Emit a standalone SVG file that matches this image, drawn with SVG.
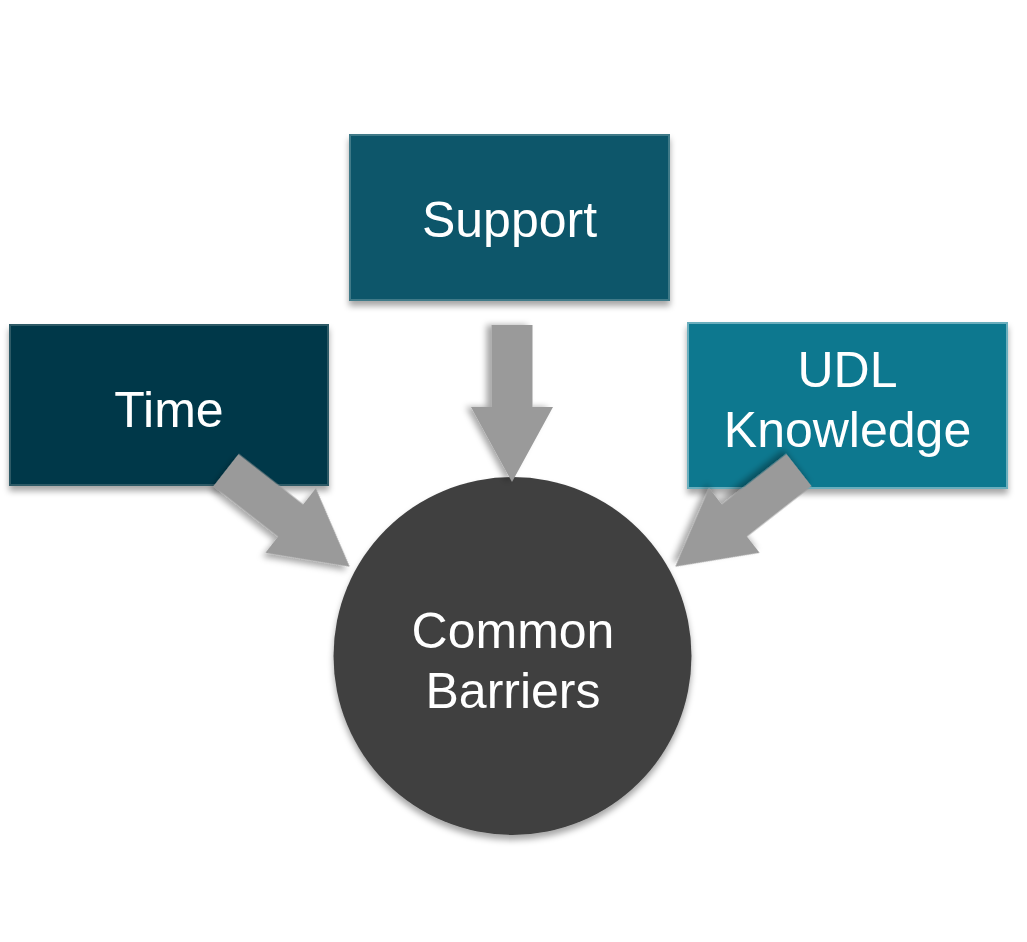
<svg xmlns="http://www.w3.org/2000/svg" width="1027" height="942" viewBox="0 0 1027 942">
  <defs>
    <filter id="shadow" x="-20%" y="-20%" width="140%" height="150%">
      <feDropShadow dx="0" dy="5" stdDeviation="3" flood-color="#000000" flood-opacity="0.35"/>
    </filter>
    <path id="arrowShape" d="M0,-20.5 L82,-20.5 L82,-41 L157,0 L82,41 L82,20.5 L0,20.5 Z"/>
  </defs>
  <style>
    .label { font-family: "Liberation Sans", Arial, sans-serif; font-size: 50px; fill: #ffffff; text-anchor: middle; }
    .arrow { fill: #9a9a9a; filter: url(#shadow); }
    .box { filter: url(#shadow); stroke-width: 2; }
  </style>
  <rect x="0" y="0" width="1027" height="942" fill="#ffffff"/>

  <g id="node-time">
    <rect class="box" x="10" y="325" width="318" height="160" fill="#05384a" stroke="#2f5a66"/>
    <text class="label" x="169" y="427">Time</text>
  </g>

  <g id="node-support">
    <rect class="box" x="350" y="135" width="319" height="165" fill="#07576b" stroke="#3f7a88"/>
    <text class="label" x="509.5" y="237">Support</text>
  </g>

  <g id="node-udl">
    <rect class="box" x="688" y="323" width="319" height="165" fill="#0a788f" stroke="#6aaebd"/>
    <text class="label" x="847.5" y="387">UDL</text>
    <text class="label" x="847.5" y="447">Knowledge</text>
  </g>

  <g id="node-barriers">
    <circle cx="512.5" cy="656" r="179" fill="#404040" filter="url(#shadow)"/>
    <text class="label" x="513" y="648">Common</text>
    <text class="label" x="513" y="708">Barriers</text>
  </g>

  <g id="connectors">
    <use href="#arrowShape" class="arrow" transform="translate(512,325) rotate(90)"/>
    <use href="#arrowShape" class="arrow" transform="translate(226,470) rotate(38)"/>
    <use href="#arrowShape" class="arrow" transform="translate(799,470) rotate(142)"/>
  </g>
</svg>
